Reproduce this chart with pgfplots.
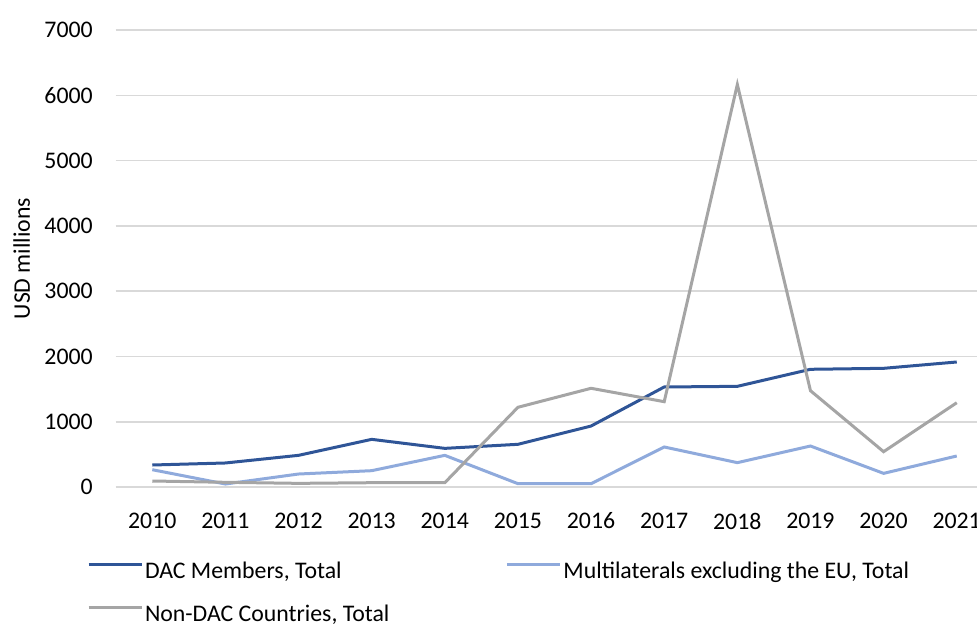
\documentclass[border=0pt]{standalone}
\usepackage{fontspec}
\setmainfont{Carlito}
\usepackage{pgfplots}
\pgfplotsset{compat=1.18}
\definecolor{dac}{HTML}{2F5597}
\definecolor{multi}{HTML}{8FAADC}
\definecolor{nondac}{HTML}{A5A5A5}
\definecolor{gridc}{HTML}{D9D9D9}
\newcommand\cf{\fontsize{11.9pt}{14pt}\selectfont}
\begin{document}
\begin{tikzpicture}
\begin{axis}[
  at={(57.85pt,-243.5pt)}, anchor=south west,
  scale only axis, width=438.8pt, height=228.5pt,
  xmin=2009.5, xmax=2021.5, ymin=0, ymax=7000,
  xtick={2010,...,2021}, ytick={0,1000,...,7000},
  major tick length=0pt,
  axis line style={draw=none},
  ymajorgrids, grid style={color=gridc, line width=0.8pt},
  /pgf/number format/assume math mode=true,
  /pgf/number format/1000 sep={},
  scaled ticks=false,
  tick label style={font=\cf, text=black},
  xticklabel style={anchor=center, inner sep=0pt, yshift=-17pt},
  yticklabel style={anchor=east, inner sep=0pt, xshift=-11.3pt},
  ylabel={USD millions},
  every axis y label/.style={at={(axis description cs:-0.1071,0.5)}, rotate=90, anchor=center, font=\cf},
  legend columns=2,
  legend cell align=left,
  legend style={draw=none, fill=none, inner sep=0pt, outer sep=0pt,
    at={(axis description cs:-0.0327,-0.1632)}, anchor=north west,
    font=\cf, row sep=10.5pt, column sep=0pt,
    nodes={inner sep=0pt, text height=8.5pt, text depth=2.5pt},
    /tikz/every even column/.append style={column sep=58pt}},
  legend image code/.code={\draw[#1, line width=1.5pt] (0pt,3.8pt) -- (26.5pt,3.8pt);},
  /tikz/every odd column/.append style={column sep=1pt},
]
\addplot[dac, line width=1.5pt] coordinates {
(2010,337) (2011,368) (2012,485) (2013,730) (2014,592) (2015,654)
(2016,934) (2017,1532) (2018,1542) (2019,1803) (2020,1818) (2021,1915)};
\addlegendentry{DAC Members, Total}
\addplot[multi, line width=1.5pt] coordinates {
(2010,265) (2011,46) (2012,199) (2013,250) (2014,485) (2015,51)
(2016,51) (2017,613) (2018,373) (2019,628) (2020,209) (2021,475)};
\addlegendentry{Multilaterals excluding the EU, Total}
\addplot[nondac, line width=1.5pt] coordinates {
(2010,92) (2011,72) (2012,56) (2013,66) (2014,66) (2015,1221)
(2016,1512) (2017,1307) (2018,6165) (2019,1475) (2020,541) (2021,1291)};
\addlegendentry{Non-DAC Countries, Total}
\end{axis}
\pgfresetboundingbox
\path[use as bounding box] (0pt,0pt) rectangle (488.5pt,-312.5pt);
\end{tikzpicture}
\end{document}
